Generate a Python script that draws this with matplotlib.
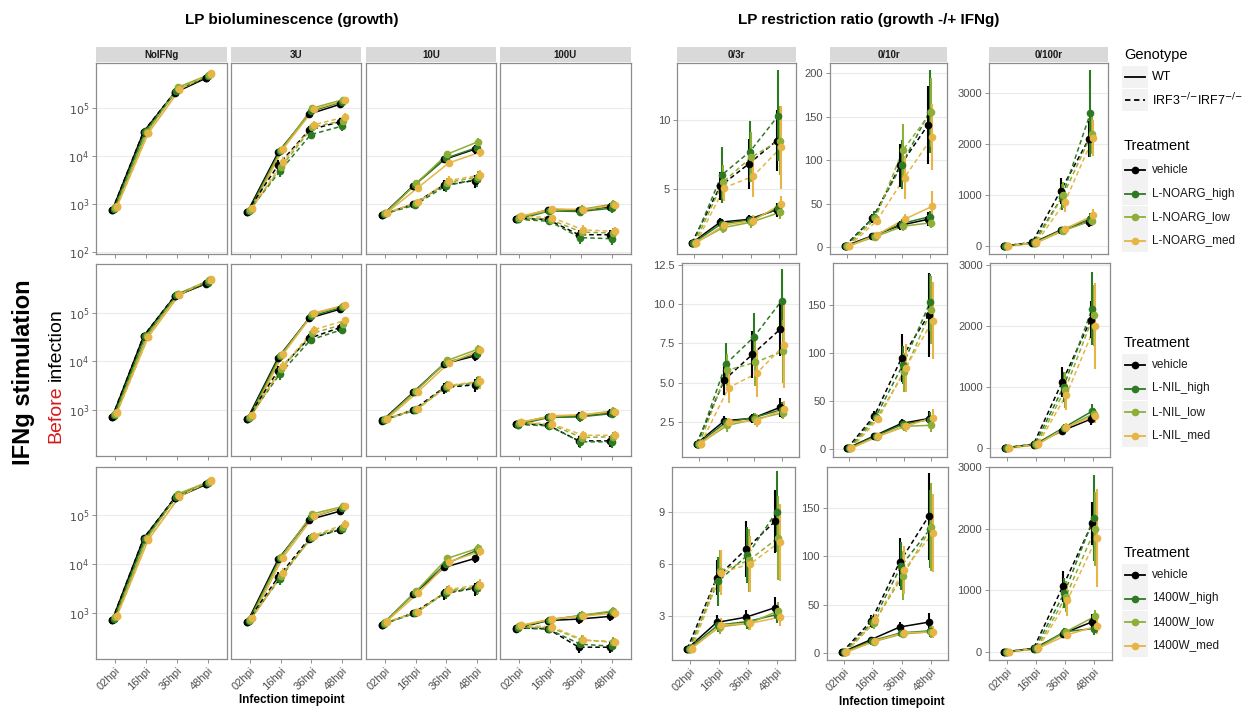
"""
Growth of LP in macrophages pre-stimulated with IFNg, under three NOS
inhibitors, and the restriction ratio (growth without / with IFNg).
Left block: bioluminescence per IFNg dose (log scale).
Right block: restriction ratio per dose, free y scale.
"""

import matplotlib.pyplot as plt
import numpy as np
from matplotlib.patches import Rectangle
from matplotlib.lines import Line2D
from matplotlib.ticker import NullLocator

plt.rcParams["font.family"] = ["Liberation Sans", "DejaVu Sans"]

W, H = 1250, 711

TIMEPOINTS = ["02hpi", "16hpi", "36hpi", "48hpi"]
DOSES = ["NoIFNg", "3U", "10U", "100U"]
RATIOS = ["0/3r", "0/10r", "0/100r"]
INHIBITORS = ["L-NOARG", "L-NIL", "1400W"]
TREATMENTS = {
    "L-NOARG": ["vehicle", "L-NOARG_high", "L-NOARG_low", "L-NOARG_med"],
    "L-NIL": ["vehicle", "L-NIL_high", "L-NIL_low", "L-NIL_med"],
    "1400W": ["vehicle", "1400W_high", "1400W_low", "1400W_med"],
}
COLORS = ["#000000", "#2d7a22", "#8fae38", "#e6b545"]
DODGE = [-0.075, -0.025, 0.025, 0.075]

# bioluminescence (RLU): [dose][treatment][timepoint]
GROWTH_WT_NOARG = [
    [[750, 32000, 210000, 420000], [800, 33000, 230000, 470000],
     [850, 31000, 270000, 500000], [900, 30000, 240000, 530000]],
    [[680, 12000, 75000, 120000], [720, 12500, 85000, 135000],
     [760, 13500, 100000, 150000], [800, 14000, 95000, 145000]],
    [[580, 2400, 8500, 14000], [620, 2500, 9000, 15000],
     [640, 2700, 11000, 20000], [660, 2200, 7200, 12000]],
    [[500, 760, 740, 880], [480, 720, 700, 820],
     [540, 740, 780, 1000], [560, 800, 760, 950]],
]
GROWTH_IRF_NOARG = [
    [[760, 32500, 215000, 430000], [790, 32000, 225000, 460000],
     [840, 31500, 260000, 490000], [880, 30500, 245000, 520000]],
    [[700, 6500, 35000, 52000], [720, 4800, 28000, 42000],
     [760, 6000, 40000, 55000], [820, 7500, 45000, 65000]],
    [[600, 1000, 2500, 3100], [620, 950, 2400, 3300],
     [640, 1050, 2800, 3700], [660, 1100, 3100, 4000]],
    [[500, 480, 230, 230], [480, 440, 200, 190],
     [520, 470, 260, 250], [560, 520, 290, 270]],
]
GROWTH_WT_NIL = [
    [[720, 33000, 220000, 400000], [760, 34000, 230000, 420000],
     [820, 33000, 250000, 460000], [900, 32000, 240000, 500000]],
    [[650, 12000, 78000, 120000], [690, 13000, 85000, 130000],
     [720, 13500, 95000, 140000], [760, 14000, 100000, 145000]],
    [[600, 2300, 9000, 13000], [620, 2400, 9500, 14000],
     [640, 2500, 10500, 18000], [650, 2350, 9300, 17000]],
    [[520, 720, 740, 880], [500, 700, 720, 840],
     [550, 730, 780, 950], [560, 760, 800, 920]],
]
GROWTH_IRF_NIL = [
    [[730, 33500, 225000, 410000], [770, 33000, 235000, 430000],
     [810, 34000, 245000, 470000], [880, 32500, 240000, 490000]],
    [[660, 6500, 30000, 50000], [690, 5500, 28000, 45000],
     [730, 7000, 38000, 58000], [780, 8000, 45000, 70000]],
    [[610, 1000, 2900, 3300], [620, 980, 3000, 3600],
     [640, 1030, 3100, 3800], [660, 1050, 3200, 3900]],
    [[520, 490, 230, 230], [500, 470, 220, 220],
     [540, 500, 270, 280], [560, 510, 300, 300]],
]
GROWTH_WT_1400W = [
    [[720, 33000, 220000, 420000], [770, 34000, 240000, 450000],
     [820, 33000, 270000, 480000], [880, 31000, 235000, 520000]],
    [[650, 12500, 80000, 120000], [700, 13000, 90000, 140000],
     [740, 14000, 105000, 150000], [780, 13500, 95000, 150000]],
    [[570, 2400, 8500, 13000], [620, 2600, 10000, 19000],
     [650, 2800, 13000, 21000], [680, 2500, 11000, 18000]],
    [[480, 700, 750, 850], [510, 720, 880, 1050],
     [540, 730, 900, 1100], [560, 760, 860, 1000]],
]
GROWTH_IRF_1400W = [
    [[730, 33500, 225000, 430000], [760, 33000, 235000, 440000],
     [810, 33500, 260000, 470000], [870, 32000, 240000, 500000]],
    [[660, 5400, 33000, 50000], [690, 5000, 34000, 52000],
     [730, 5800, 36000, 58000], [780, 6500, 38000, 65000]],
    [[580, 1000, 2500, 3200], [600, 980, 2600, 3300],
     [630, 1030, 2800, 3500], [660, 1050, 3000, 3800]],
    [[490, 480, 200, 200], [500, 460, 230, 210],
     [530, 500, 280, 260], [560, 520, 280, 250]],
]
# relative SE of the growth means: [dose][timepoint]
GROWTH_RELERR_WT = [[0.15, 0.10, 0.15, 0.15], [0.15, 0.15, 0.15, 0.12],
                    [0.10, 0.12, 0.15, 0.20], [0.12, 0.15, 0.20, 0.20]]
GROWTH_RELERR_IRF = [[0.15, 0.10, 0.15, 0.15], [0.15, 0.25, 0.20, 0.20],
                     [0.10, 0.12, 0.25, 0.30], [0.12, 0.15, 0.25, 0.25]]

# restriction ratio: [ratio][treatment][timepoint]
RATIO_WT_NOARG = [
    [[1.1, 2.6, 2.8, 3.5], [1.1, 2.5, 2.75, 3.6], [1.1, 2.2, 2.6, 3.3], [1.1, 2.4, 2.7, 3.9]],
    [[1, 13, 25, 32], [1, 13, 27, 35], [1, 12, 24, 28], [1, 14, 32, 47]],
    [[1, 55, 310, 480], [1, 60, 320, 530], [1, 55, 300, 500], [1, 65, 330, 600]],
]
RATIO_IRF_NOARG = [
    [[1.1, 5.2, 6.8, 8.5], [1.1, 6.0, 7.7, 10.3], [1.1, 5.5, 7.3, 8.5], [1.1, 5.1, 5.9, 8.0]],
    [[1, 33, 94, 141], [1, 35, 95, 156], [1, 33, 112, 155], [1, 30, 80, 127]],
    [[1, 70, 1080, 2100], [1, 75, 960, 2600], [1, 65, 1000, 2200], [1, 70, 860, 2120]],
]
RATIO_WT_NIL = [
    [[1.15, 2.6, 2.75, 3.45], [1.15, 2.5, 2.8, 3.3], [1.15, 2.3, 2.7, 3.1], [1.15, 2.5, 2.6, 3.35]],
    [[1, 14, 27, 32], [1, 14, 26, 31], [1, 13, 24, 25], [1, 14, 24, 33]],
    [[1, 50, 280, 470], [1, 55, 330, 600], [1, 50, 320, 560], [1, 55, 340, 520]],
]
RATIO_IRF_NIL = [
    [[1.15, 5.2, 6.8, 8.4], [1.15, 6.2, 7.9, 10.2], [1.15, 5.8, 6.3, 7.0], [1.15, 4.7, 5.6, 7.4]],
    [[1, 35, 95, 140], [1, 34, 88, 153], [1, 33, 80, 145], [1, 32, 85, 134]],
    [[1, 60, 1080, 2100], [1, 62, 1000, 2280], [1, 58, 950, 2170], [1, 60, 870, 2000]],
]
RATIO_WT_1400W = [
    [[1.15, 2.65, 2.95, 3.5], [1.15, 2.5, 2.7, 3.1], [1.15, 2.4, 2.6, 3.3], [1.15, 2.5, 2.6, 2.95]],
    [[1, 14, 27, 32], [1, 13, 21, 23], [1, 12, 20, 22], [1, 13, 21, 22]],
    [[1, 55, 300, 490], [1, 55, 330, 380], [1, 50, 330, 580], [1, 60, 280, 420]],
]
RATIO_IRF_1400W = [
    [[1.15, 5.2, 6.85, 8.45], [1.15, 5.0, 6.5, 9.0], [1.15, 5.6, 6.2, 7.5], [1.15, 5.5, 6.0, 7.25]],
    [[1, 33, 94, 141], [1, 32, 90, 128], [1, 31, 80, 130], [1, 34, 86, 124]],
    [[1, 60, 1070, 2090], [1, 62, 960, 2180], [1, 58, 900, 2000], [1, 60, 840, 1850]],
]
# SE of the ratios: [ratio][treatment][timepoint]
RATIO_ERR_WT_NOARG = [
    [[0.05, 0.3, 0.3, 0.5], [0.05, 0.3, 0.3, 0.4], [0.05, 0.4, 0.4, 0.5], [0.05, 0.3, 0.4, 0.6]],
    [[0.5, 3, 5, 8], [0.5, 3, 5, 7], [0.5, 3, 5, 6], [0.5, 3, 6, 17]],
    [[5, 20, 60, 100], [5, 20, 60, 120], [5, 20, 50, 100], [5, 20, 60, 120]],
]
RATIO_ERR_IRF_NOARG = [
    [[0.05, 1.0, 1.8, 2.2], [0.05, 2.0, 2.2, 3.3], [0.05, 1.2, 1.8, 2.5], [0.05, 1.0, 1.5, 3.0]],
    [[0.5, 5, 25, 45], [0.5, 6, 28, 48], [0.5, 5, 30, 40], [0.5, 5, 25, 38]],
    [[5, 20, 250, 350], [5, 20, 250, 850], [5, 20, 250, 400], [5, 20, 200, 350]],
]
RATIO_ERR_WT_NIL = [
    [[0.05, 0.3, 0.3, 0.6], [0.05, 0.3, 0.3, 0.5], [0.05, 0.4, 0.4, 0.4], [0.05, 0.3, 0.4, 0.5]],
    [[0.5, 3, 5, 8], [0.5, 3, 5, 8], [0.5, 3, 5, 7], [0.5, 3, 6, 9]],
    [[5, 20, 60, 100], [5, 20, 60, 120], [5, 20, 60, 100], [5, 20, 60, 110]],
]
RATIO_ERR_IRF_NIL = [
    [[0.05, 1.0, 1.5, 1.7], [0.05, 1.3, 1.5, 2.0], [0.05, 1.0, 1.5, 2.0], [0.05, 1.0, 1.5, 2.7]],
    [[0.5, 5, 25, 44], [0.5, 5, 20, 30], [0.5, 5, 20, 35], [0.5, 5, 25, 40]],
    [[5, 20, 250, 300], [5, 20, 250, 600], [5, 20, 300, 500], [5, 20, 250, 700]],
]
RATIO_ERR_WT_1400W = [
    [[0.05, 0.4, 0.4, 0.6], [0.05, 0.4, 0.4, 0.5], [0.05, 0.4, 0.4, 0.5], [0.05, 0.4, 0.4, 0.5]],
    [[0.5, 3, 5, 9], [0.5, 3, 4, 6], [0.5, 3, 4, 6], [0.5, 3, 4, 6]],
    [[5, 20, 60, 120], [5, 20, 60, 100], [5, 20, 60, 100], [5, 20, 60, 120]],
]
RATIO_ERR_IRF_1400W = [
    [[0.05, 1.0, 1.6, 1.8], [0.05, 1.4, 1.6, 2.3], [0.05, 1.2, 1.8, 2.4], [0.05, 1.3, 1.6, 2.2]],
    [[0.5, 6, 25, 45], [0.5, 6, 25, 40], [0.5, 6, 25, 45], [0.5, 6, 25, 40]],
    [[5, 20, 250, 350], [5, 20, 250, 700], [5, 20, 250, 600], [5, 20, 250, 800]],
]

GROWTH = {
    "L-NOARG": (GROWTH_WT_NOARG, GROWTH_IRF_NOARG),
    "L-NIL": (GROWTH_WT_NIL, GROWTH_IRF_NIL),
    "1400W": (GROWTH_WT_1400W, GROWTH_IRF_1400W),
}
RATIO = {
    "L-NOARG": (RATIO_WT_NOARG, RATIO_IRF_NOARG, RATIO_ERR_WT_NOARG, RATIO_ERR_IRF_NOARG),
    "L-NIL": (RATIO_WT_NIL, RATIO_IRF_NIL, RATIO_ERR_WT_NIL, RATIO_ERR_IRF_NIL),
    "1400W": (RATIO_WT_1400W, RATIO_IRF_1400W, RATIO_ERR_WT_1400W, RATIO_ERR_IRF_1400W),
}

# panel boxes in pixels: (left, top, right, bottom)
GROWTH_COLS = [(96, 227), (231, 361), (366, 496), (500, 631)]
GROWTH_ROWS = [(63, 254), (264, 456), (467, 659)]
GROWTH_YLIM = [(10 ** 1.96, 10 ** 5.94), (10 ** 2.05, 10 ** 6.01), (10 ** 2.06, 10 ** 5.98)]
RATIO_BOXES = [
    [(677, 63, 796, 254), (830, 63, 947, 254), (989, 63, 1108, 254)],
    [(682, 263, 799, 457), (833, 263, 947, 457), (990, 263, 1110, 457)],
    [(672, 467, 795, 660), (827, 467, 948, 660), (989, 467, 1112, 660)],
]
RATIO_YLIM = [
    [(0.3, 14.1), (-8, 212), (-157, 3590)],
    [(0.3, 12.6), (-8, 194), (-150, 3030)],
    [(0.5, 11.55), (-7, 192), (-130, 3005)],
]
RATIO_TICKS = [
    [[5, 10], [0, 50, 100, 150, 200], [0, 1000, 2000, 3000]],
    [[2.5, 5, 7.5, 10, 12.5], [0, 50, 100, 150], [0, 1000, 2000, 3000]],
    [[3, 6, 9], [0, 50, 100, 150], [0, 1000, 2000, 3000]],
]
DASHED = (0, (3, 2))


def add_px_axes(fig, left, top, right, bottom):
    return fig.add_axes([left / W, 1 - bottom / H, (right - left) / W, (bottom - top) / H])


def style_panel(ax, show_xlabels):
    for s in ax.spines.values():
        s.set_color("#8c8c8c")
        s.set_linewidth(0.9)
    ax.grid(axis="y", color="#ebebeb", lw=0.8)
    ax.set_axisbelow(True)
    ax.tick_params(length=3, width=0.6, color="#7f7f7f", labelsize=8,
                   labelcolor="#4d4d4d", pad=2)
    ax.set_xticks(range(1, len(TIMEPOINTS) + 1))
    ax.set_xlim(0.4, 4.6)
    if show_xlabels:
        ax.set_xticklabels(TIMEPOINTS, rotation=45, ha="right", rotation_mode="anchor")
    else:
        ax.set_xticklabels([])


def draw_series(ax, wt, irf, err_wt, err_irf, relative):
    x = np.arange(1, len(TIMEPOINTS) + 1)
    for means, errs, ls in ((wt, err_wt, "-"), (irf, err_irf, DASHED)):
        for k, color in enumerate(COLORS):
            xs = x + DODGE[k]
            m = np.asarray(means[k], float)
            e = np.asarray(errs[k], float)
            lo, hi = (m * (1 - e), m * (1 + e)) if relative else (m - e, m + e)
            ax.plot(xs, m, ls=ls, color=color, lw=1.1, zorder=2)
            ax.vlines(xs, lo, hi, color=color, lw=1.5, zorder=3)
            ax.plot(xs, m, "o", ms=4.5, color=color, zorder=4)


def add_strip(fig, left, right, label):
    sax = add_px_axes(fig, left, 47, right, 62)
    sax.set_facecolor("#d9d9d9")
    sax.set_xticks([])
    sax.set_yticks([])
    for s in sax.spines.values():
        s.set_visible(False)
    sax.text(0.5, 0.5, label, ha="center", va="center", fontsize=7,
             fontweight="bold", color="#1a1a1a", transform=sax.transAxes)


def main():
    fig = plt.figure(figsize=(W / 100, H / 100), dpi=100)

    over = fig.add_axes([0, 0, 1, 1])
    over.set_xlim(0, W)
    over.set_ylim(H, 0)
    over.axis("off")

    # growth panels
    for r, inhib in enumerate(INHIBITORS):
        wt_all, irf_all = GROWTH[inhib]
        top, bottom = GROWTH_ROWS[r]
        for c, dose in enumerate(DOSES):
            left, right = GROWTH_COLS[c]
            ax = add_px_axes(fig, left, top, right, bottom)
            draw_series(ax, wt_all[c], irf_all[c],
                        [GROWTH_RELERR_WT[c]] * 4, [GROWTH_RELERR_IRF[c]] * 4, True)
            ax.set_yscale("log")
            ax.set_yticks([1e2, 1e3, 1e4, 1e5])
            ax.set_yticklabels([r"$10^{2}$", r"$10^{3}$", r"$10^{4}$", r"$10^{5}$"])
            ax.yaxis.set_minor_locator(NullLocator())
            ax.set_ylim(*GROWTH_YLIM[r])
            style_panel(ax, r == len(INHIBITORS) - 1)
            if c > 0:
                ax.tick_params(axis="y", left=False, labelleft=False)
            if r == 0:
                add_strip(fig, left, right, dose)

    # restriction ratio panels
    for r, inhib in enumerate(INHIBITORS):
        wt_all, irf_all, ewt_all, eirf_all = RATIO[inhib]
        for c, ratio in enumerate(RATIOS):
            left, top, right, bottom = RATIO_BOXES[r][c]
            ax = add_px_axes(fig, left, top, right, bottom)
            draw_series(ax, wt_all[c], irf_all[c], ewt_all[c], eirf_all[c], False)
            ticks = RATIO_TICKS[r][c]
            ax.set_yticks(ticks)
            if r == 1 and c == 0:
                ax.set_yticklabels([f"{t:.1f}" for t in ticks])
            else:
                ax.set_yticklabels([f"{t:g}" for t in ticks])
            ax.set_ylim(*RATIO_YLIM[r][c])
            style_panel(ax, r == len(INHIBITORS) - 1)
            if r == 0:
                add_strip(fig, left, right, ratio)

    # block titles and axis titles
    over.text(292, 20, "LP bioluminescence (growth)", ha="center", va="center",
              fontsize=11, fontweight="bold")
    over.text(869, 20, "LP restriction ratio (growth -/+ IFNg)", ha="center",
              va="center", fontsize=11, fontweight="bold")
    over.text(292, 700, "Infection timepoint", ha="center", va="center",
              fontsize=8.5, fontweight="bold")
    over.text(892, 702, "Infection timepoint", ha="center", va="center",
              fontsize=8.5, fontweight="bold")

    over.text(24, 372, "IFNg stimulation", rotation=90, ha="center", va="center",
              fontsize=17, fontweight="bold")
    over.text(56, 443, "Before", rotation=90, ha="center", va="bottom",
              fontsize=14, color="#d7191c")
    over.text(56, 381, "infection", rotation=90, ha="center", va="bottom",
              fontsize=14)

    # legends
    kx0, kx1, tx = 1122, 1148, 1152
    over.text(1124, 55, "Genotype", ha="left", va="center", fontsize=10.5)
    for y, ls, label in ((77, "-", "WT"),
                         (100, DASHED, r"IRF3$^{{-}/{-}}$IRF7$^{{-}/{-}}$")):
        over.add_patch(Rectangle((kx0, y - 11), kx1 - kx0, 22, color="#f2f2f2", lw=0))
        over.add_line(Line2D([kx0 + 3, kx1 - 3], [y, y], color="black", lw=1.3, ls=ls))
        over.text(tx, y, label, ha="left", va="center", fontsize=9)

    for title_y, first_y, inhib in ((146, 170, "L-NOARG"), (343, 365, "L-NIL"),
                                    (553, 575, "1400W")):
        over.text(1124, title_y, "Treatment", ha="left", va="center", fontsize=10.5)
        for k, (label, color) in enumerate(zip(TREATMENTS[inhib], COLORS)):
            y = first_y + 23.5 * k
            over.add_patch(Rectangle((kx0, y - 11.5), kx1 - kx0, 23, color="#f2f2f2", lw=0))
            over.add_line(Line2D([kx0 + 3, kx1 - 3], [y, y], color=color, lw=1.3))
            over.plot([(kx0 + kx1) / 2], [y], "o", ms=4.5, color=color)
            over.text(tx, y, label, ha="left", va="center", fontsize=8.5, color="#1a1a1a")

    fig.savefig("out.png", dpi=100)


if __name__ == "__main__":
    main()
